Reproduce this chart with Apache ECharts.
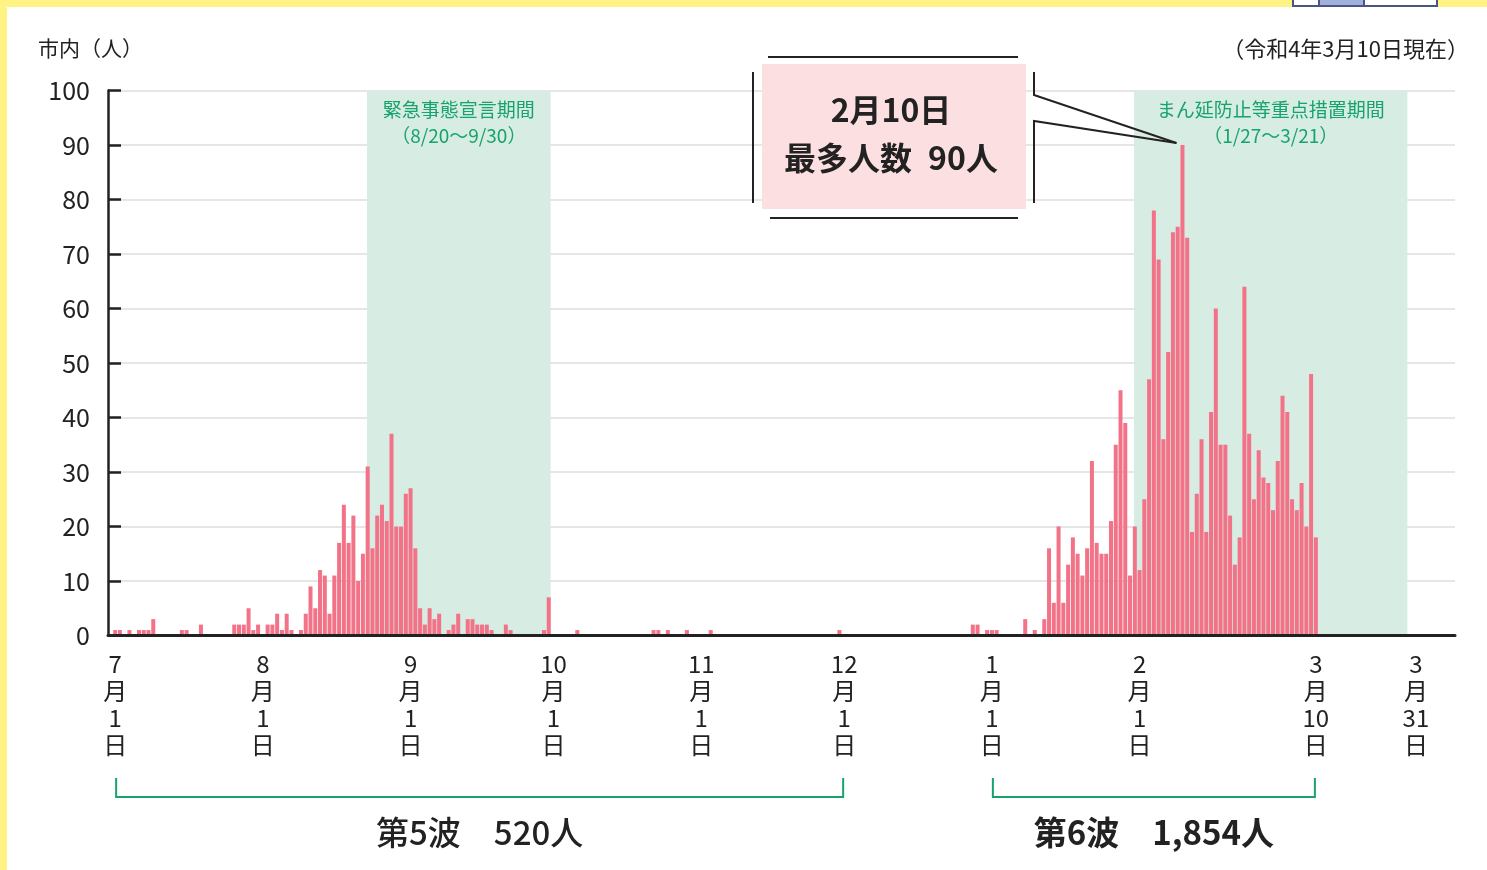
<!DOCTYPE html>
<html>
<head>
<meta charset="utf-8">
<script src="https://cdn.jsdelivr.net/npm/echarts@6/dist/echarts.min.js"></script>
<style>
  html, body { margin: 0; padding: 0; }
  #frame { position: absolute; left: 0; top: 0; width: 1487px; height: 870px; background: #FFF483; }
  #paper { position: absolute; left: 7px; top: 7px; width: 1480px; height: 863px; background: #fff; }
  #c { position: absolute; left: 0; top: 0; width: 1487px; height: 870px; }
</style>
</head>
<body>
<div id="frame"><div id="paper"></div></div>
<div id="c"></div>
<script>
// ---------------- DATA ----------------
// Months shown on the axis, in order (2021-07 .. 2022-03) and their lengths
const monthNumbers = [7, 8, 9, 10, 11, 12, 1, 2, 3];
const monthLengths = [31, 31, 30, 31, 30, 31, 31, 28, 31];

// Daily new cases (市内) by month, index 0 = day 1
const jul = [1,1,0,1,0,1,1,1,3,0, 0,0,0,0,1,1,0,0,2,0, 0,0,0,0,0,2,2,2,5,1, 2];
const aug = [0,2,2,4,1,4,1,0,1,4, 9,5,12,11,4,11,17,24,17,22, 10,15,31,16,22,24,21,37,20,20, 26];
const sep = [27,16,5,2,5,3,4,0,1,2, 4,0,3,3,2,2,2,1,0,0, 2,1,0,0,0,0,0,0,1,7];
const oct = [0,0,0,0,0,1,0,0,0,0, 0,0,0,0,0,0,0,0,0,0, 0,1,1,0,1,0,0,0,1,0, 0];
const nov = [0,0,1,0,0,0,0,0,0,0, 0,0,0,0,0,0,0,0,0,0, 0,0,0,0,0,0,0,0,0,1];
const dec = [0,0,0,0,0,0,0,0,0,0, 0,0,0,0,0,0,0,0,0,0, 0,0,0,0,0,0,0,2,2,0, 1];
const jan = [1,1,0,0,0,0,0,3,0,1, 0,3,16,6,20,6,13,18,15,11, 16,32,17,15,15,21,35,45,39,11, 20];
const feb = [12,25,47,78,69,36,52,74,75,90, 73,19,26,36,19,41,60,35,35,22, 13,18,64,37,25,34,29,28];
const mar = [23,32,44,41,25,23,28,20,48,18];
const dailyByMonth = [jul, aug, sep, oct, nov, dec, jan, feb, mar];

// Axis tick dates [month, day]
const tickDates = [[7,1],[8,1],[9,1],[10,1],[11,1],[12,1],[1,1],[2,1],[3,10],[3,31]];

// Restriction periods (shaded), extents in day numbers (0 = 7/1) as drawn in the picture
const periodTitles = ['緊急事態宣言期間', 'まん延防止等重点措置期間'];
const periodRanges = ['（8/20～9/30）', '（1/27～3/21）'];
const periodStart = [52.85, 213.85];
const periodEnd = [91.4, 271.2];

// Waves
const waveNames = ['第5波', '第6波'];
const waveFrom = [[7,1],[1,1]];
const waveTo = [[12,1],[3,10]];

const yAxisName = '市内（人）';
const asOfText = '（令和4年3月10日現在）';

// ---------------- BUILD ----------------
const FONT = '"Noto Sans CJK JP", "Noto Sans", sans-serif';
const monthOffset = [];
{ let acc = 0; for (let i = 0; i < monthLengths.length; i++) { monthOffset.push(acc); acc += monthLengths[i]; } }
function dayIndex(m, d) { return monthOffset[monthNumbers.indexOf(m)] + d - 1; }
function dateOf(idx) {
  for (let i = monthOffset.length - 1; i >= 0; i--) if (idx >= monthOffset[i]) return [monthNumbers[i], idx - monthOffset[i] + 1];
}

const barData = [];
dailyByMonth.forEach((arr, i) => arr.forEach((v, j) => barData.push([monthOffset[i] + j, v])));

const tickDays = tickDates.map(([m, d]) => dayIndex(m, d));
const tickLabels = tickDates.map(([m, d]) => m + '\n月\n' + d + '\n日');

let peak = barData[0];
barData.forEach(p => { if (p[1] > peak[1]) peak = p; });

const chart = echarts.init(document.getElementById('c'), null, { renderer: 'canvas' });

const option = {
  animation: false,
  backgroundColor: 'transparent',
  title: [
    { text: yAxisName, left: 38, top: 38, padding: 0,
      textStyle: { fontFamily: FONT, fontSize: 21, fontWeight: 'normal', color: '#222' } },
    { text: asOfText, right: 18, top: 38, padding: 0,
      textStyle: { fontFamily: FONT, fontSize: 22, fontWeight: 'normal', color: '#222' } }
  ],
  grid: { left: 108, right: 32, top: 90.5, bottom: 234.5, containLabel: false },
  xAxis: {
    type: 'value', min: -1.5, max: 281.2, z: 5,
    axisLine: { show: true, onZero: false, lineStyle: { color: '#222', width: 3 } },
    axisTick: { show: false },
    splitLine: { show: false },
    axisLabel: {
      customValues: tickDays,
      formatter: v => { const k = tickDays.indexOf(v); return k >= 0 ? tickLabels[k] : ''; },
      fontFamily: FONT, fontSize: 24, lineHeight: 27, color: '#222', margin: 15
    }
  },
  yAxis: {
    type: 'value', min: 0, max: 100, interval: 10,
    axisLine: { show: true, onZero: false, lineStyle: { color: '#222', width: 2.5 } },
    axisTick: { show: true, inside: true, length: 13, lineStyle: { color: '#222', width: 2.5 } },
    splitLine: { show: true, lineStyle: { color: '#e6e6e6', width: 2 } },
    axisLabel: { fontFamily: FONT, fontSize: 25, color: '#222', margin: 18 }
  },
  series: [{
    type: 'bar',
    data: barData,
    barWidth: 4,
    itemStyle: { color: '#F27287' },
    markArea: {
      silent: true,
      itemStyle: { color: '#d7ece3' },
      label: {
        show: true, position: 'insideTop', distance: 6, formatter: '{b}',
        fontFamily: FONT, fontSize: 19, lineHeight: 26, color: '#17a36d'
      },
      data: periodTitles.map((t, i) => [
        { name: t + '\n' + periodRanges[i], xAxis: periodStart[i] },
        { xAxis: periodEnd[i] }
      ])
    }
  }]
};
chart.setOption(option);

// ---------- annotations positioned from the data scales ----------
const graphics = [];
const LINE = '#222';
const Z = 50;
// top-right illustration fragment
graphics.push({ type: 'rect', z: Z, shape: { x: 1293, y: -2, width: 144, height: 8 }, style: { fill: '#fff', stroke: '#4a5585', lineWidth: 2 } });
graphics.push({ type: 'rect', z: Z, shape: { x: 1319, y: -2, width: 45, height: 8 }, style: { fill: '#a1b0db', stroke: '#4a5585', lineWidth: 2 } });

// waves
waveNames.forEach((name, i) => {
  const a = dayIndex(waveFrom[i][0], waveFrom[i][1]);
  const b = dayIndex(waveTo[i][0], waveTo[i][1]);
  let total = 0;
  barData.forEach(p => { if (p[0] >= a && p[0] <= b) total += p[1]; });
  const x1 = chart.convertToPixel({ xAxisIndex: 0 }, a) + 1;
  const x2 = chart.convertToPixel({ xAxisIndex: 0 }, b) - 1;
  graphics.push({ type: 'polyline', z: Z, shape: { points: [[x1, 778], [x1, 797], [x2, 797], [x2, 778]] },
    style: { stroke: '#17a36d', lineWidth: 2, fill: null } });
  graphics.push({ type: 'text', z: Z, x: (x1 + x2) / 2, y: 832,
    style: { text: name + '　' + total.toLocaleString('en-US') + '人', font: (i === 1 ? 'bold ' : '500 ') + '33px ' + FONT,
      fill: '#222', align: 'center', verticalAlign: 'middle', textAlign: 'center', textVerticalAlign: 'middle' } });
});

// peak callout
const tip = chart.convertToPixel({ seriesIndex: 0 }, peak);
const tx = tip[0] - 6, ty = tip[1] - 2;
const pd = dateOf(peak[0]);
graphics.push({ type: 'rect', z: Z, shape: { x: 762, y: 64, width: 264, height: 145 }, style: { fill: '#fcdfe1' } });
graphics.push({ type: 'line', z: Z, shape: { x1: 768, y1: 57, x2: 1018, y2: 57 }, style: { stroke: LINE, lineWidth: 2 } });
graphics.push({ type: 'line', z: Z, shape: { x1: 770, y1: 218, x2: 1018, y2: 218 }, style: { stroke: LINE, lineWidth: 2 } });
graphics.push({ type: 'line', z: Z, shape: { x1: 753, y1: 72, x2: 753, y2: 203 }, style: { stroke: LINE, lineWidth: 2 } });
graphics.push({ type: 'polyline', z: Z, shape: { points: [[1034, 72], [1034, 95], [tx, ty]] }, style: { stroke: LINE, lineWidth: 2, fill: null } });
graphics.push({ type: 'polyline', z: Z, shape: { points: [[tx, ty], [1034, 121], [1034, 203]] }, style: { stroke: LINE, lineWidth: 2, fill: null } });
graphics.push({ type: 'text', z: Z + 1, x: 891, y: 110,
  style: { text: pd[0] + '月' + pd[1] + '日', font: 'bold 32px ' + FONT, fill: '#222',
    align: 'center', verticalAlign: 'middle', textAlign: 'center', textVerticalAlign: 'middle' } });
graphics.push({ type: 'text', z: Z + 1, x: 891, y: 158,
  style: { text: '最多人数\u2002' + peak[1] + '人', font: 'bold 32px ' + FONT, fill: '#222',
    align: 'center', verticalAlign: 'middle', textAlign: 'center', textVerticalAlign: 'middle' } });

chart.setOption({ graphic: { elements: graphics } });
</script>
</body>
</html>
